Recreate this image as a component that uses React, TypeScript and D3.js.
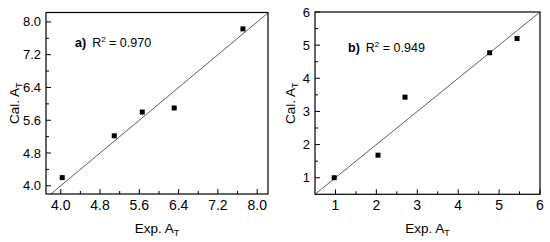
import React from 'react'
import * as d3 from 'd3'

const width = 550
const height = 242
const font = 'Liberation Sans, Arial, sans-serif'

// panel a
const expA = [4.03, 5.09, 5.66, 6.31, 7.71]
const calA = [4.2, 5.22, 5.8, 5.9, 7.83]
const ticksA = [4.0, 4.8, 5.6, 6.4, 7.2, 8.0]
const minorA = [4.4, 5.2, 6.0, 6.8, 7.6]

// panel b
const expB = [0.97, 2.04, 2.7, 4.77, 5.44]
const calB = [1.0, 1.68, 3.43, 4.77, 5.2]
const ticksB = [1, 2, 3, 4, 5, 6]
const minorB = [1.5, 2.5, 3.5, 4.5, 5.5]

const Panel = ({ box, xDomain, yDomain, xs, ys, ticks, minor, fmt, tag, r2, labelX, note }) => {
    const x = d3.scaleLinear().domain(xDomain).range([box.left, box.right])
    const y = d3.scaleLinear().domain(yDomain).range([box.bottom, box.top])
    const pts = xs.map((v, i) => ({ x: v, y: ys[i] }))
    const clipId = 'clip-' + tag
    const lo = Math.min(xDomain[0], yDomain[0])
    const hi = Math.max(xDomain[1], yDomain[1])
    const diag = d3.line()([
        [x(lo), y(lo)],
        [x(hi), y(hi)],
    ])
    return (
        <g fontFamily={font}>
            <defs>
                <clipPath id={clipId}>
                    <rect x={box.left} y={box.top} width={box.right - box.left} height={box.bottom - box.top} />
                </clipPath>
            </defs>
            <path d={diag} stroke="#333" strokeWidth={0.8} fill="none" clipPath={`url(#${clipId})`} />
            {pts.map((d, i) => (
                <rect key={i} x={x(d.x) - 2.5} y={y(d.y) - 2.5} width={5} height={5} fill="#000" />
            ))}
            <rect
                x={box.left}
                y={box.top}
                width={box.right - box.left}
                height={box.bottom - box.top}
                fill="none"
                stroke="#000"
                strokeWidth={1.2}
            />
            {/* x ticks */}
            {ticks.map((t) => (
                <g key={'x' + t}>
                    <line x1={x(t)} x2={x(t)} y1={box.bottom} y2={box.bottom - 5} stroke="#000" />
                    <text x={x(t)} y={box.bottom + 16} textAnchor="middle" fontSize={14}>
                        {fmt(t)}
                    </text>
                </g>
            ))}
            {minor.map((t) => (
                <line key={'xm' + t} x1={x(t)} x2={x(t)} y1={box.bottom} y2={box.bottom - 3} stroke="#000" />
            ))}
            {/* y ticks */}
            {ticks.map((t) => (
                <g key={'y' + t}>
                    <line x1={box.left} x2={box.left + 5} y1={y(t)} y2={y(t)} stroke="#000" />
                    <text x={box.left - 5} y={y(t) + 4.5} textAnchor="end" fontSize={13}>
                        {fmt(t)}
                    </text>
                </g>
            ))}
            {minor.map((t) => (
                <line key={'ym' + t} x1={box.left} x2={box.left + 3} y1={y(t)} y2={y(t)} stroke="#000" />
            ))}
            {/* axis labels */}
            <text x={(box.left + box.right) / 2} y={233} textAnchor="middle" fontSize={13.5}>
                Exp. A<tspan dy={3} fontSize={9}>T</tspan>
            </text>
            <text
                transform={`translate(${labelX},${(box.top + box.bottom) / 2}) rotate(-90)`}
                textAnchor="middle"
                fontSize={13.5}
            >
                Cal. A<tspan dy={3} fontSize={9}>T</tspan>
            </text>
            {/* annotation */}
            <text x={note[0]} y={note[1]} fontSize={12.5}>
                <tspan fontWeight="bold">{tag})</tspan>
                <tspan dx={6}>R</tspan>
                <tspan dy={-5} fontSize={8}>2</tspan>
                <tspan dy={5}> = {r2}</tspan>
            </text>
        </g>
    )
}

const App = () => {
    const fmt1 = d3.format('.1f')
    const fmt0 = d3.format('d')
    return (
        <div style={{ position: 'absolute', left: 0, top: 0 }}>
            <svg width={width} height={height} style={{ display: 'block', background: '#fff' }}>
                <Panel
                    box={{ left: 46, right: 268, top: 12.5, bottom: 194 }}
                    xDomain={[3.7, 8.22]}
                    yDomain={[3.8, 8.23]}
                    xs={expA}
                    ys={calA}
                    ticks={ticksA}
                    minor={minorA}
                    fmt={fmt1}
                    tag="a"
                    r2="0.970"
                    labelX={19}
                    note={[75, 47]}
                />
                <Panel
                    box={{ left: 315, right: 540, top: 12, bottom: 194.3 }}
                    xDomain={[0.5, 6]}
                    yDomain={[0.5, 6]}
                    xs={expB}
                    ys={calB}
                    ticks={ticksB}
                    minor={minorB}
                    fmt={fmt0}
                    tag="b"
                    r2="0.949"
                    labelX={295}
                    note={[348, 52]}
                />
            </svg>
        </div>
    )
}

export default App
